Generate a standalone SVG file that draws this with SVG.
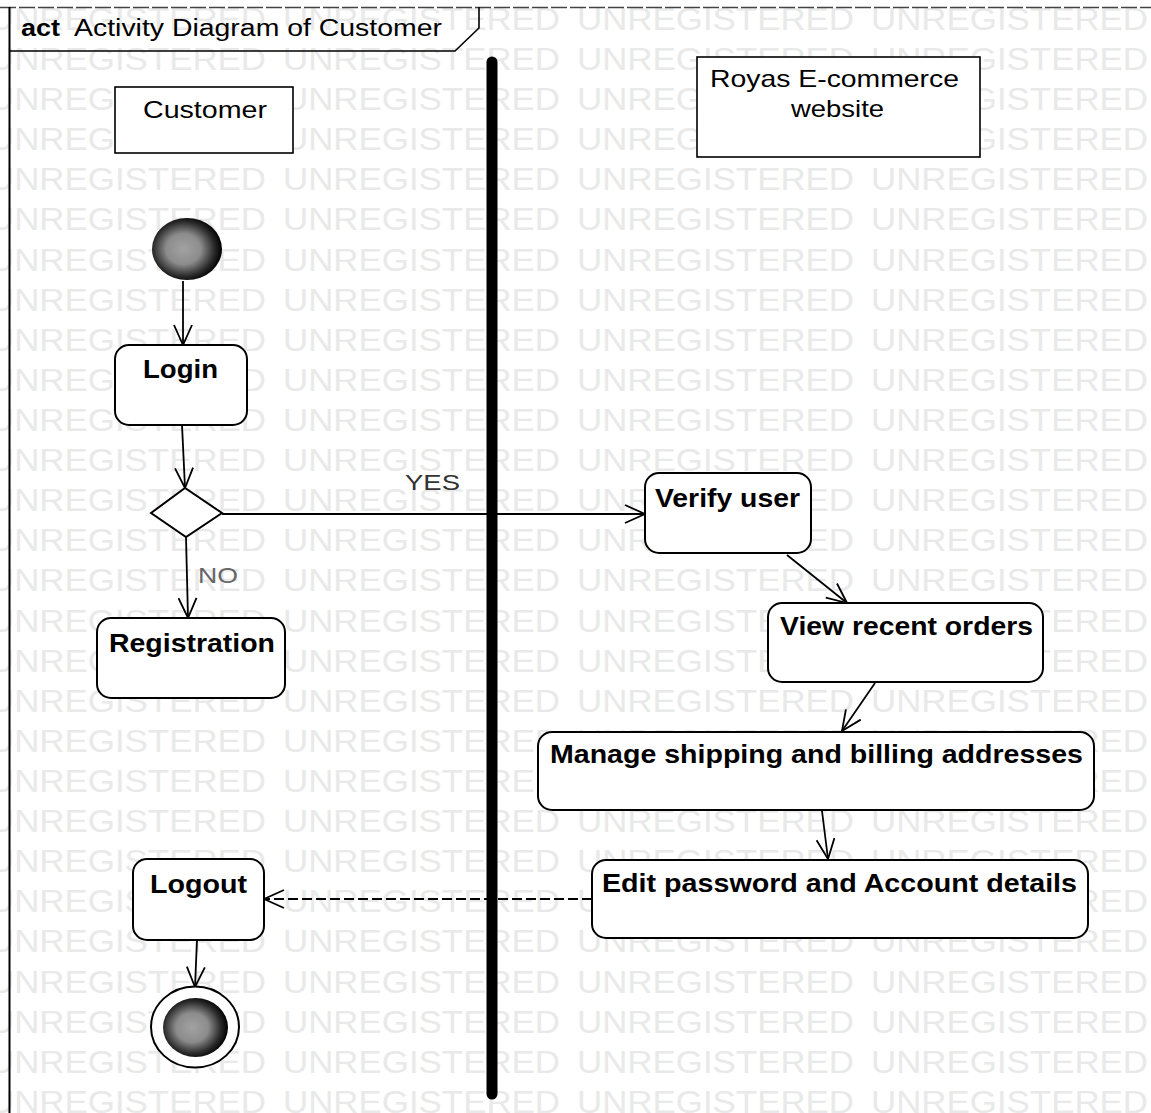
<svg xmlns="http://www.w3.org/2000/svg" width="1151" height="1113" viewBox="0 0 1151 1113">
  <style>
    .wm { font-family: "Liberation Sans", Arial, sans-serif; font-size: 32px; fill: #e9e9e9; }
    .act { fill: #fff; stroke: #000; stroke-width: 2; }
    .hdr { fill: #fff; stroke: #000; stroke-width: 1.6; }
    .lbl { font-family: "Liberation Sans", Arial, sans-serif; font-size: 25px; font-weight: bold; fill: #000; }
    .lane { font-family: "Liberation Sans", Arial, sans-serif; font-size: 24px; fill: #000; }
    .guard { font-family: "Liberation Sans", Arial, sans-serif; font-size: 22px; }
    .flow { fill: none; stroke: #000; stroke-width: 1.8; marker-end: url(#open); }
    .dash { stroke-dasharray: 10 4; }
  </style>
  <defs>
    <marker id="open" markerUnits="userSpaceOnUse" viewBox="0 0 22 20" markerWidth="22" markerHeight="20" refX="21" refY="10" orient="auto">
      <path d="M1,1 L21,10 L1,19" fill="none" stroke="#000" stroke-width="1.8"/>
    </marker>
    <radialGradient id="ball" cx="45%" cy="50%" r="55%">
      <stop offset="0" stop-color="#a2a2a2"/>
      <stop offset="0.45" stop-color="#8c8c8c"/>
      <stop offset="0.8" stop-color="#2a2a2a"/>
      <stop offset="1" stop-color="#000"/>
    </radialGradient>
    <g id="wmrow">
      <text class="wm" x="-11" textLength="277" lengthAdjust="spacingAndGlyphs">UNREGISTERED</text>
      <text class="wm" x="283" textLength="277" lengthAdjust="spacingAndGlyphs">UNREGISTERED</text>
      <text class="wm" x="577" textLength="277" lengthAdjust="spacingAndGlyphs">UNREGISTERED</text>
      <text class="wm" x="871" textLength="277" lengthAdjust="spacingAndGlyphs">UNREGISTERED</text>
    </g>
  </defs>

  <rect width="1151" height="1113" fill="#fff"/>

  <!-- background watermark rows -->
  <g id="watermark">
    <use href="#wmrow" y="30"/>
    <use href="#wmrow" y="70"/>
    <use href="#wmrow" y="110"/>
    <use href="#wmrow" y="150"/>
    <use href="#wmrow" y="190"/>
    <use href="#wmrow" y="230"/>
    <use href="#wmrow" y="271"/>
    <use href="#wmrow" y="311"/>
    <use href="#wmrow" y="351"/>
    <use href="#wmrow" y="391"/>
    <use href="#wmrow" y="431"/>
    <use href="#wmrow" y="471"/>
    <use href="#wmrow" y="511"/>
    <use href="#wmrow" y="551"/>
    <use href="#wmrow" y="591"/>
    <use href="#wmrow" y="632"/>
    <use href="#wmrow" y="672"/>
    <use href="#wmrow" y="712"/>
    <use href="#wmrow" y="752"/>
    <use href="#wmrow" y="792"/>
    <use href="#wmrow" y="832"/>
    <use href="#wmrow" y="872"/>
    <use href="#wmrow" y="912"/>
    <use href="#wmrow" y="952"/>
    <use href="#wmrow" y="993"/>
    <use href="#wmrow" y="1033"/>
    <use href="#wmrow" y="1073"/>
    <use href="#wmrow" y="1113"/>
  </g>

  <!-- diagram frame and name tab -->
  <g id="frame">
    <line x1="0" y1="7.5" x2="1151" y2="7.5" stroke="#444" stroke-width="1.5" stroke-dasharray="16 3"/>
    <line x1="9.5" y1="7" x2="9.5" y2="1113" stroke="#000" stroke-width="2"/>
    <path d="M9,51 L455,51 L479,28 L479,7" fill="none" stroke="#000" stroke-width="1.6"/>
    <text x="21" y="36" font-family="'Liberation Sans', Arial, sans-serif" font-size="23" font-weight="bold" textLength="39" lengthAdjust="spacingAndGlyphs">act</text>
    <text x="74" y="36" font-family="'Liberation Sans', Arial, sans-serif" font-size="23" textLength="368" lengthAdjust="spacingAndGlyphs">Activity Diagram of Customer</text>
  </g>

  <!-- partition separator -->
  <line id="divider" x1="492" y1="62" x2="492" y2="1094" stroke="#000" stroke-width="11" stroke-linecap="round"/>

  <!-- partition headers -->
  <g id="lane-customer">
    <rect class="hdr" x="115" y="87" width="178" height="66"/>
    <text class="lane" x="143" y="118" font-size="26" textLength="124" lengthAdjust="spacingAndGlyphs">Customer</text>
  </g>
  <g id="lane-website">
    <rect class="hdr" x="697" y="57" width="283" height="100"/>
    <text class="lane" x="710" y="87" textLength="249" lengthAdjust="spacingAndGlyphs">Royas E-commerce</text>
    <text class="lane" x="791" y="117" textLength="93" lengthAdjust="spacingAndGlyphs">website</text>
  </g>

  <!-- connectors -->
  <g id="connectors">
    <line class="flow" x1="183" y1="281" x2="183" y2="345"/>
    <line class="flow" x1="182" y1="425" x2="185" y2="488"/>
    <line class="flow" x1="222" y1="514" x2="645" y2="514"/>
    <line class="flow" x1="186" y1="537" x2="188" y2="618"/>
    <line class="flow" x1="787" y1="555" x2="847" y2="603"/>
    <line class="flow" x1="875" y1="683" x2="842" y2="731"/>
    <line class="flow" x1="822" y1="811" x2="828" y2="859"/>
    <line class="flow dash" x1="592" y1="899" x2="264" y2="899"/>
    <line class="flow" x1="197" y1="940" x2="195" y2="987"/>
    <text class="guard" x="405" y="490" fill="#333" textLength="55" lengthAdjust="spacingAndGlyphs">YES</text>
    <text class="guard" x="198" y="583" fill="#666" textLength="40" lengthAdjust="spacingAndGlyphs">NO</text>
  </g>

  <!-- nodes -->
  <g id="start">
    <ellipse cx="187" cy="249" rx="35" ry="31" fill="url(#ball)"/>
  </g>
  <g id="login">
    <rect class="act" x="115" y="345" width="132" height="80" rx="14"/>
    <text class="lbl" x="143" y="378" textLength="75" lengthAdjust="spacingAndGlyphs">Login</text>
  </g>
  <g id="decision">
    <polygon class="act" points="151,513 185,488 222,513 186,537"/>
  </g>
  <g id="registration">
    <rect class="act" x="97" y="618" width="188" height="80" rx="14"/>
    <text class="lbl" x="109" y="652" font-size="26" textLength="166" lengthAdjust="spacingAndGlyphs">Registration</text>
  </g>
  <g id="verify-user">
    <rect class="act" x="645" y="473" width="166" height="80" rx="14"/>
    <text class="lbl" x="655" y="507" textLength="145" lengthAdjust="spacingAndGlyphs">Verify user</text>
  </g>
  <g id="view-orders">
    <rect class="act" x="768" y="603" width="275" height="79" rx="14"/>
    <text class="lbl" x="780" y="635" textLength="253" lengthAdjust="spacingAndGlyphs">View recent orders</text>
  </g>
  <g id="manage-addresses">
    <rect class="act" x="538" y="732" width="556" height="78" rx="14"/>
    <text class="lbl" x="550" y="763" textLength="533" lengthAdjust="spacingAndGlyphs">Manage shipping and billing addresses</text>
  </g>
  <g id="edit-account">
    <rect class="act" x="592" y="860" width="496" height="78" rx="14"/>
    <text class="lbl" x="602" y="892" textLength="475" lengthAdjust="spacingAndGlyphs">Edit password and Account details</text>
  </g>
  <g id="logout">
    <rect class="act" x="133" y="859" width="131" height="81" rx="14"/>
    <text class="lbl" x="150" y="893" textLength="97" lengthAdjust="spacingAndGlyphs">Logout</text>
  </g>
  <g id="final">
    <ellipse cx="195" cy="1027" rx="44" ry="40.5" fill="#fff" stroke="#000" stroke-width="2"/>
    <ellipse cx="195.5" cy="1027.5" rx="32.5" ry="29.5" fill="url(#ball)"/>
  </g>
</svg>
